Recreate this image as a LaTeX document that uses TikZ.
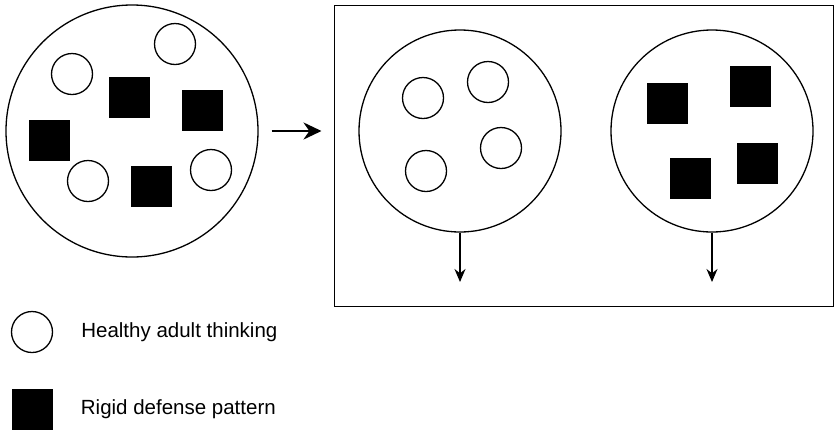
\documentclass[tikz,border=0pt]{standalone}
\usepackage{fontspec}
\setmainfont{Liberation Sans}
\usetikzlibrary{arrows.meta, positioning}

\begin{document}
\begin{tikzpicture}[x=1pt, y=-1pt,
			% Stile per i cerchi che contengono gli elementi
			group/.style={draw, circle, inner sep=0pt, line width=1.3pt},
			% Stile per il pensiero sano (cerchio vuoto)
			thought/.style={draw, circle, minimum size=41pt, inner sep=0pt, line width=1.3pt},
			% Stile per lo schema di difesa (quadrato nero)
			defense/.style={rectangle, fill=black, minimum size=41pt, inner sep=0pt},
			% Stile per le frecce
			arrow/.style={->, >={Stealth[length=13pt, width=11pt]}, line width=1.5pt},
			bigarrow/.style={->, >={Stealth[length=18pt, width=17pt]}, line width=2.7pt},
			legend/.style={inner sep=0pt, font=\fontsize{20.5}{24}\selectfont}
			]
			\useasboundingbox (0,0) rectangle (834,429);
			
			% --- GRUPPO MISTO (Sinistra) ---
			\node [group, minimum size=252pt] (mix) at (132,131) {};
			\node [thought] (mt1) at (72,74) {};
			\node [thought] (mt2) at (175,44) {};
			\node [thought] (mt3) at (88,181) {};
			\node [thought] (mt4) at (211,170) {};
			\node [defense] (md1) at (129,97) {};
			\node [defense] (md2) at (202,110) {};
			\node [defense] (md3) at (49,140) {};
			\node [defense] (md4) at (151,186) {};
			
			% --- GRUPPI SEPARATI (Destra) ---
			\node [draw, rectangle, line width=1pt, minimum width=499pt, minimum height=301pt, inner sep=0pt] (split) at (583.5,155.5) {};
			
			\node [group, minimum size=202pt] (healthy) at (460,131) {};
			\node [thought] (ht1) at (423,98) {};
			\node [thought] (ht2) at (488,82) {};
			\node [thought] (ht3) at (501,148) {};
			\node [thought] (ht4) at (426,171) {};
			
			\node [group, minimum size=202pt] (rigid) at (712,131) {};
			\node [defense] (rd1) at (667,103) {};
			\node [defense] (rd2) at (750,86) {};
			\node [defense] (rd3) at (690,178) {};
			\node [defense] (rd4) at (757,163) {};
			
			\coordinate (hout) at (460,282);
			\coordinate (rout) at (712,282);
			
			\draw [bigarrow, shorten <=13pt, shorten >=12pt] (mix.east |- 0,131) -- (split.west |- 0,131);
			\draw [arrow] (healthy.south) -- (hout);
			\draw [arrow] (rigid.south) -- (rout);
			
			% --- LEGENDA ---
			\node [thought] (key1) at (32,332) {};
			\node [legend, right=28pt of key1] (text1) {Healthy adult thinking};
			\node [defense] (key2) at (32,409) {};
			\node [legend, right=28pt of key2] (text2) {Rigid defense pattern};
			
		\end{tikzpicture}
\end{document}
